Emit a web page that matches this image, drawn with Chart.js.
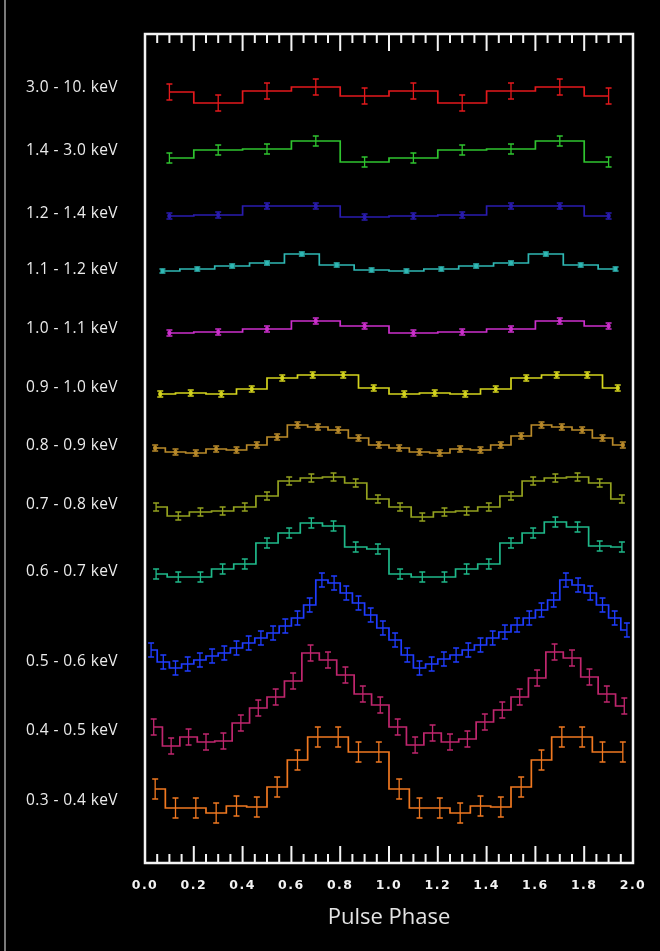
<!DOCTYPE html>
<html><head><meta charset="utf-8">
<script src="https://cdn.jsdelivr.net/npm/chart.js@4.4.1/dist/chart.umd.min.js"></script>
<style>
html,body{margin:0;padding:0;background:#000;}
#wrap{position:relative;width:660px;height:951px;background:#000;}
canvas{display:block;}
#edge{position:absolute;left:4px;top:0;width:2px;height:951px;background:#7a7a7a;}
</style>
</head><body>
<div id="wrap"><canvas id="c" width="660" height="951"></canvas><div id="edge"></div></div>
<script>
// ---- Data (normalised, vertically offset count rates; two pulse cycles) ----
const bandLabels = ["3.0 - 10. keV","1.4 - 3.0 keV","1.2 - 1.4 keV","1.1 - 1.2 keV","1.0 - 1.1 keV","0.9 - 1.0 keV","0.8 - 0.9 keV","0.7 - 0.8 keV","0.6 - 0.7 keV","0.5 - 0.6 keV","0.4 - 0.5 keV","0.3 - 0.4 keV"];
const xTickLabels = ["0.0","0.2","0.4","0.6","0.8","1.0","1.2","1.4","1.6","1.8","2.0"];

const rate_3_10   = [77.1,76.0,77.2,77.6,76.7,77.2,76.0,77.2,77.6,76.7];
const rate_14_30  = [70.5,71.3,71.4,72.2,70.1,70.5,71.3,71.4,72.2,70.1];
const rate_12_14  = [64.7,64.8,65.7,65.7,64.6,64.7,64.8,65.7,65.7,64.7];
const rate_11_12  = [59.2,59.4,59.7,60.0,60.9,59.8,59.3,59.2,59.4,59.7,60.0,60.9,59.8,59.4];
const rate_10_11  = [53.0,53.1,53.4,54.2,53.7,53.0,53.1,53.4,54.2,53.7];
const rate_09_10  = [46.9,47.0,46.9,47.4,48.5,48.8,48.8,47.5,46.9,47.0,46.9,47.4,48.5,48.8,48.8,47.5];
const rate_08_09  = [41.5,41.1,41.0,41.4,41.3,41.8,42.6,43.8,43.6,43.3,42.5,41.8,41.5,41.1,41.0,41.4,41.3,41.8,42.7,43.8,43.6,43.3,42.5,41.8];
const rate_07_08  = [35.6,34.7,35.1,35.2,35.6,36.7,38.2,38.5,38.6,38.0,36.4,35.6,34.6,35.1,35.2,35.6,36.7,38.2,38.5,38.6,38.0,36.4];
const rate_06_07  = [28.9,28.6,28.6,29.4,29.9,32.0,33.0,34.0,33.7,31.6,31.4,28.9,28.6,28.6,29.4,29.9,32.0,33.0,34.1,33.6,31.7,31.6];
const rate_05_06  = [21.3,20.1,19.5,19.9,20.3,20.7,21.0,21.5,22.0,22.5,23.0,23.7,24.5,25.8,28.3,28.0,27.0,26.0,24.8,23.5,22.3,20.8,19.5,19.9,20.4,20.8,21.3,21.8,22.5,23.1,23.8,24.5,25.3,26.3,28.3,27.8,27.0,25.8,24.5,23.3];
const rate_04_05  = [13.6,11.7,12.6,12.1,12.2,14.0,15.5,16.6,18.2,21.0,20.3,18.8,16.9,15.8,13.6,11.8,13.0,12.1,12.4,14.1,15.3,16.6,18.5,21.1,20.5,18.6,16.9,15.7];
const rate_03_04  = [7.4,5.5,5.5,5.0,5.7,5.6,7.6,10.3,12.6,12.6,11.1,11.1,7.4,5.5,5.5,5.0,5.7,5.6,7.6,10.3,12.6,12.6,11.1,11.1];

const errors = [0.8,0.5,0.3,0.2,0.3,0.3,0.3,0.4,0.5,0.7,0.8,1.0];
const labelLevels = [77.5,71.2,64.9,59.3,53.45,47.5,41.7,35.8,29.15,20.15,13.2,6.25];

const allRates = [rate_3_10,rate_14_30,rate_12_14,rate_11_12,rate_10_11,rate_09_10,rate_08_09,rate_07_08,rate_06_07,rate_05_06,rate_04_05,rate_03_04];
const colors = ['#e3191c','#2fc42f','#2a1cb0','#2fb8b4','#cc2fcc','#d4d41e','#b98a2a','#94a21f','#1fb98a','#1f3cff','#c0266e','#f07820'];
const dotted = [false,false,true,true,true,true,true,false,false,false,false,false];

// Bin centres in phase (bins span 0..2, two cycles)
function phaseCentres(n){ const out=[]; for(let i=0;i<n;i++) out.push((i+0.5)*2/n); return out; }

const datasets = allRates.map((vals, k) => {
  const xs = phaseCentres(vals.length);
  return {
    label: bandLabels[k],
    data: vals.map((v,i)=>({x:xs[i], y:v})),
    err: errors[k],
    borderColor: colors[k],
    backgroundColor: colors[k],
    borderWidth: 1.7,
    stepped: 'middle',
    pointRadius: dotted[k] ? 2.2 : 0,
    pointBorderWidth: 0,
    fill: false
  };
});

const errorBarPlugin = {
  id: 'errorBars',
  afterDatasetsDraw(chart){
    const ctx = chart.ctx, ys = chart.scales.y;
    chart.data.datasets.forEach((ds, di) => {
      const meta = chart.getDatasetMeta(di);
      ctx.save();
      ctx.strokeStyle = ds.borderColor; ctx.lineWidth = 1.3;
      meta.data.forEach((pt, i) => {
        const v = ds.data[i].y;
        const y1 = ys.getPixelForValue(v + ds.err), y2 = ys.getPixelForValue(v - ds.err);
        ctx.beginPath();
        ctx.moveTo(pt.x, y1); ctx.lineTo(pt.x, y2);
        ctx.moveTo(pt.x-3, y1); ctx.lineTo(pt.x+3, y1);
        ctx.moveTo(pt.x-3, y2); ctx.lineTo(pt.x+3, y2);
        ctx.stroke();
      });
      ctx.restore();
    });
    // letter spacing for the x tick labels (drawn after datasets, ticks.z = 1)
    ctx.letterSpacing = '1.5px';
  },
  afterDraw(chart){
    const ctx = chart.ctx, a = chart.chartArea, xs = chart.scales.x, ys = chart.scales.y;
    ctx.save();
    ctx.letterSpacing = '0px';
    // frame
    ctx.strokeStyle = '#f4f4f4'; ctx.lineWidth = 2.5;
    ctx.strokeRect(a.left, a.top, a.right - a.left, a.bottom - a.top);
    // inward tick marks, minor every 0.05, major every 0.2
    ctx.lineWidth = 2;
    for (let k = 1; k < 40; k++) {
      const px = xs.getPixelForValue(k * 0.05);
      const len = (k % 4 === 0) ? 17 : 9;
      ctx.beginPath();
      ctx.moveTo(px, a.top); ctx.lineTo(px, a.top + len);
      ctx.moveTo(px, a.bottom); ctx.lineTo(px, a.bottom - len);
      ctx.stroke();
    }
    // band labels
    ctx.fillStyle = '#ececec';
    ctx.font = '15.5px "Open Sans"';
    ctx.letterSpacing = '0.4px';
    ctx.textAlign = 'left'; ctx.textBaseline = 'middle';
    bandLabels.forEach((t, k) => {
      ctx.fillText(t, 26, ys.getPixelForValue(labelLevels[k]));
    });
    ctx.restore();
    ctx.letterSpacing = '0px';
  }
};

new Chart(document.getElementById('c'), {
  type: 'line',
  data: { datasets },
  options: {
    responsive: false,
    animation: false,
    layout: { padding: { left: 145, right: 27, top: 34, bottom: 0 } },
    plugins: { legend: { display: false }, tooltip: { enabled: false } },
    scales: {
      x: {
        type: 'linear', min: 0, max: 2, position: 'bottom',
        grid: { display: false, drawTicks: false },
        border: { display: false },
        ticks: {
          stepSize: 0.2, autoSkip: false, maxRotation: 0, padding: 15, z: 1,
          color: '#f2f2f2',
          font: { family: 'DejaVu Sans', weight: 'bold', size: 12.5 },
          callback: (v) => xTickLabels[Math.round(v / 0.2)]
        },
        title: { display: true, text: 'Pulse Phase', color: '#e4e4e4',
          font: { family: 'Open Sans', size: 22 }, padding: { top: 10, bottom: 20 } },
        afterFit: (s) => { s.height = 88; }
      },
      y: { min: 0, max: 82.9, display: false }
    }
  },
  plugins: [errorBarPlugin]
});
</script>
</body></html>
